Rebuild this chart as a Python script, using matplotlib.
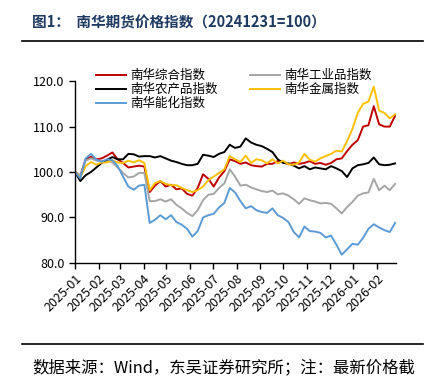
import numpy as np
import pandas as pd
import matplotlib as mpl
mpl.use('Agg')
mpl.rcParams.update({'font.family': ['Noto Sans CJK SC', 'DejaVu Sans'], 'font.size': 9})
from matplotlib import pyplot as plt
import matplotlib.dates as mdates
from matplotlib.lines import Line2D

# weekly samples, 2025-01-01 .. 2026-02-25
dates = pd.date_range('2025-01-01', periods=61, freq='7D')

composite = [100.0, 99.2, 102.8, 103.4, 102.8, 103.0, 103.6, 104.3, 102.8, 102.0,
             101.0, 101.2, 101.4, 101.2, 95.6, 97.0, 98.0, 96.8, 97.2, 96.2,
             96.4, 95.2, 94.8, 96.5, 99.5, 98.5, 96.8, 98.8, 100.2, 102.8,
             102.4, 101.8, 102.1, 101.5, 101.3, 101.2, 101.8, 101.8, 102.4, 102.2,
             101.7, 102.1, 101.8, 102.0, 102.4, 101.8, 102.0, 101.6, 102.0, 102.8,
             103.0, 104.6, 106.0, 107.0, 110.0, 110.3, 114.5, 110.5, 110.0, 110.0,
             112.4]
industrial = [100.0, 99.3, 102.5, 103.0, 102.5, 102.4, 102.6, 102.1, 101.0, 99.8,
              98.8, 99.0, 99.8, 99.8, 93.6, 93.6, 94.0, 93.5, 94.0, 92.8,
              92.0, 91.0, 90.3, 91.6, 93.8, 95.0, 95.2, 96.5, 97.5, 100.6,
              99.0, 97.0, 97.2, 96.6, 96.2, 95.8, 95.6, 95.9, 95.1, 95.3,
              94.8, 94.0, 93.0, 94.2, 93.8, 93.5, 93.1, 93.2, 93.0, 92.0,
              90.9, 92.3, 93.4, 94.8, 95.3, 95.5, 98.5, 96.0, 97.0, 96.0,
              97.4]
agri = [100.0, 98.0, 99.3, 100.0, 101.0, 102.0, 102.7, 103.3, 102.8, 102.8,
        104.0, 103.9, 103.4, 103.5, 103.5, 103.2, 103.5, 103.0, 102.5, 102.2,
        101.8, 101.5, 101.5, 101.8, 103.8, 103.6, 103.3, 104.0, 104.4, 106.0,
        105.3, 105.6, 107.4, 106.5, 106.0, 105.7, 105.1, 104.4, 102.8, 102.0,
        101.9, 101.4, 100.8, 101.3, 100.6, 101.0, 100.8, 100.6, 101.3, 100.8,
        100.2, 98.9, 100.8, 101.5, 101.7, 102.0, 103.2, 101.7, 101.5, 101.6,
        101.9]
metals = [100.0, 98.8, 101.3, 102.2, 101.6, 102.1, 102.1, 102.6, 102.1, 102.0,
          102.5, 102.1, 102.6, 102.0, 96.0, 97.6, 98.0, 97.4, 97.1, 97.1,
          96.5, 96.0, 95.6, 96.0, 96.8, 98.2, 99.0, 99.8, 100.6, 103.5,
          102.8, 102.2, 103.6, 102.0, 102.8, 102.6, 101.9, 102.8, 101.9, 102.5,
          101.7, 101.6, 102.1, 104.0, 102.7, 102.3, 103.0, 103.5, 104.0, 104.7,
          104.5, 106.8, 109.5, 113.0, 115.0, 115.5, 118.8, 113.5, 113.0, 111.8,
          112.7]
energy = [100.0, 98.6, 103.0, 104.0, 102.7, 102.3, 102.8, 102.6, 101.3, 99.0,
          96.8, 96.1, 97.0, 97.2, 88.8, 89.5, 90.5, 89.6, 90.5, 89.0,
          88.4, 87.5, 85.8, 87.0, 90.0, 90.5, 90.8, 92.2, 93.2, 96.5,
          95.5, 93.6, 92.0, 92.5, 91.6, 91.2, 91.0, 92.0, 90.5, 89.9,
          89.0, 86.8, 85.6, 88.0, 87.0, 86.9, 86.6, 85.6, 86.0, 84.0,
          81.8, 83.0, 84.2, 84.0, 85.5, 87.5, 88.5, 87.8, 87.2, 86.8,
          88.8]

names = ['南华综合指数', '南华工业品指数', '南华农产品指数', '南华金属指数', '南华能化指数']
colors = ['#C00000', '#A5A5A5', '#000000', '#FFC000', '#5B9BD5']
series = [composite, industrial, agri, metals, energy]

fig = plt.figure(figsize=(4.36, 3.81), dpi=100)
ax = fig.add_axes([0.172, 0.31, 0.736, 0.477])

lines = []
for vals, c, n in zip(series, colors, names):
    ln, = ax.plot(dates, vals, color=c, lw=1.4, label=n)
    lines.append(ln)

ax.set_ylim(80, 120)
ax.set_yticks([80, 90, 100, 110, 120])
ax.yaxis.set_major_formatter(mpl.ticker.FormatStrFormatter('%.1f'))
ax.set_xlim(pd.Timestamp('2025-01-01'), pd.Timestamp('2026-02-26'))
ax.xaxis.set_major_locator(mdates.MonthLocator())
ax.xaxis.set_major_formatter(mdates.DateFormatter('%Y-%m'))
for lab in ax.get_xticklabels():
    lab.set_rotation(45)
    lab.set_ha('right')
    lab.set_rotation_mode('anchor')
ax.tick_params(axis='both', labelsize=9, direction='out', length=4, width=1)
ax.tick_params(axis='x', pad=3)
for s in ['top', 'right']:
    ax.spines[s].set_visible(False)
for s in ['left', 'bottom']:
    ax.spines[s].set_linewidth(1)

order = [0, 2, 4, 1, 3]
fig.legend([lines[i] for i in order], [names[i] for i in order], ncol=2,
           loc='upper left', bbox_to_anchor=(0.208, 0.832), frameon=False,
           fontsize=9, handlelength=2.4, handletextpad=0.35, columnspacing=2.6,
           labelspacing=0.08, borderaxespad=0)

fig.text(0.073, 0.942, '图1：  南华期货价格指数（20241231=100）', fontsize=10.5,
         fontweight='bold', color='#1F3A60', va='center', ha='left')
fig.add_artist(Line2D([0.05, 0.97], [1 - 41 / 381] * 2, color='black', lw=1.2))
fig.add_artist(Line2D([0.05, 0.97], [1 - 344 / 381] * 2, color='black', lw=1.2))
fig.text(0.073, 0.034, '数据来源：Wind，东吴证券研究所；注：最新价格截', fontsize=11.8,
         va='center', ha='left')

fig.savefig('out.png', dpi=100)
